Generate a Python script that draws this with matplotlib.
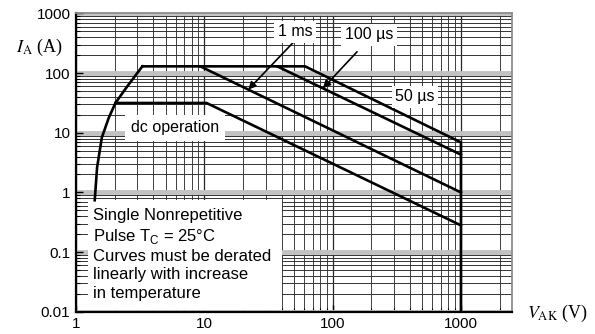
import matplotlib.pyplot as plt
import numpy as np
from matplotlib.patches import Rectangle

plt.rcParams['font.family'] = ['Liberation Sans', 'DejaVu Sans']
plt.rcParams['mathtext.fontset'] = 'custom'
plt.rcParams['mathtext.rm'] = 'Liberation Sans'

# rising limit shared by all pulse widths
rise_v = [1.40, 1.46, 1.59, 1.80, 2.03, 2.51, 3.29]
rise_i = [0.74, 2.6, 8.3, 17.8, 31.6, 60, 130]

# each curve: flat top then derating line down to 1000 V
dc_v = [2.03, 10.4, 1000]
dc_i = [31.6, 31.6, 0.28]
ms1_v = [3.29, 9.3, 1000]
ms1_i = [130, 130, 1.0]
us100_v = [9.3, 37, 1000]
us100_i = [130, 130, 4.3]
us50_v = [37, 61, 1000, 1000]
us50_i = [130, 130, 6.9, 0.01]

x_ticks = [1, 10, 100, 1000]
x_labels = ['1', '10', '100', '1000']
y_ticks = [0.01, 0.1, 1, 10, 100, 1000]
y_labels = ['0.01', '0.1', '1', '10', '100', '1000']

note = ('Single Nonrepetitive\nPulse T$_\\mathrm{C}$ = 25°C\n'
        'Curves must be derated\nlinearly with increase\nin temperature')


def on_line(vs, cs, v):
    # current on a log-log polyline at voltage v
    return 10 ** np.interp(np.log10(v), np.log10(vs), np.log10(cs))


fig = plt.figure(figsize=(5.95, 3.34), dpi=100)
ax = fig.add_axes([0.1277, 0.0668, 0.7328, 0.8928])
ax.set_xscale('log')
ax.set_yscale('log')
ax.set_xlim(1, 2500)
ax.set_ylim(0.01, 1000)

ax.grid(True, axis='x', which='major', color='0.15', lw=0.9)
ax.grid(True, axis='x', which='minor', color='0.25', lw=0.7)
ax.grid(True, axis='y', which='major', color='0.76', lw=3.5)
ax.grid(True, axis='y', which='minor', color='0.2', lw=0.7)
ax.set_axisbelow(True)

ax.set_xticks(x_ticks)
ax.set_xticklabels(x_labels)
ax.set_yticks(y_ticks)
ax.set_yticklabels(y_labels)
ax.tick_params(which='both', direction='in', labelsize=11, color='black')
ax.tick_params(which='major', length=5, width=1.0, pad=4)
ax.tick_params(which='minor', length=3, width=0.8)
for side in ['left', 'bottom']:
    ax.spines[side].set_linewidth(1.6)
for side in ['top', 'right']:
    ax.spines[side].set_linewidth(1.3)
    ax.spines[side].set_color('0.55')

lw = 1.9
ax.plot(rise_v, rise_i, color='black', lw=lw, zorder=4)
for vs, cs in [(dc_v, dc_i), (ms1_v, ms1_i), (us100_v, us100_i), (us50_v, us50_i)]:
    ax.plot(vs, cs, color='black', lw=lw, zorder=4, solid_joinstyle='miter')

box = dict(fc='white', ec='none', pad=2.5)
ax.text(5.9, 12.1, 'dc operation', fontsize=11.5, ha='center', va='center',
        bbox=dict(fc='white', ec='none', pad=4), zorder=5)
ax.text(439, 40, '50 µs', fontsize=11.5, ha='center', va='center',
        bbox=box, zorder=5)

arrow = dict(arrowstyle='-|>', color='black', lw=1.2, mutation_scale=11,
             shrinkA=0, shrinkB=0)
ax.annotate('', xy=(22, on_line(ms1_v, ms1_i, 22)), xytext=(49, 322),
            arrowprops=arrow, zorder=5)
ax.annotate('', xy=(84, on_line(us100_v, us100_i, 84)), xytext=(155, 228),
            arrowprops=arrow, zorder=5)
ax.text(51, 493, '1 ms', fontsize=11.5, ha='center', va='center',
        bbox=box, zorder=6)
ax.text(192, 440, '100 µs', fontsize=11.5, ha='center', va='center',
        bbox=box, zorder=6)

ax.add_patch(Rectangle((0.0275, 0.004), 0.445, 0.371, transform=ax.transAxes,
                       fc='white', ec='none', zorder=3))
ax.text(0.039, 0.347, note, transform=ax.transAxes, fontsize=12,
        ha='left', va='top', linespacing=1.27, zorder=5)

fig.text(0.067, 0.859, r'$I_{\mathrm{A}}$ (A)', fontsize=13, ha='center',
         va='center', family='Liberation Serif', math_fontfamily='stix')
fig.text(0.886, 0.063, r'$V_{\mathrm{AK}}$ (V)', fontsize=13, ha='left',
         va='center', family='Liberation Serif', math_fontfamily='stix')

fig.savefig('out.png', dpi=100)
